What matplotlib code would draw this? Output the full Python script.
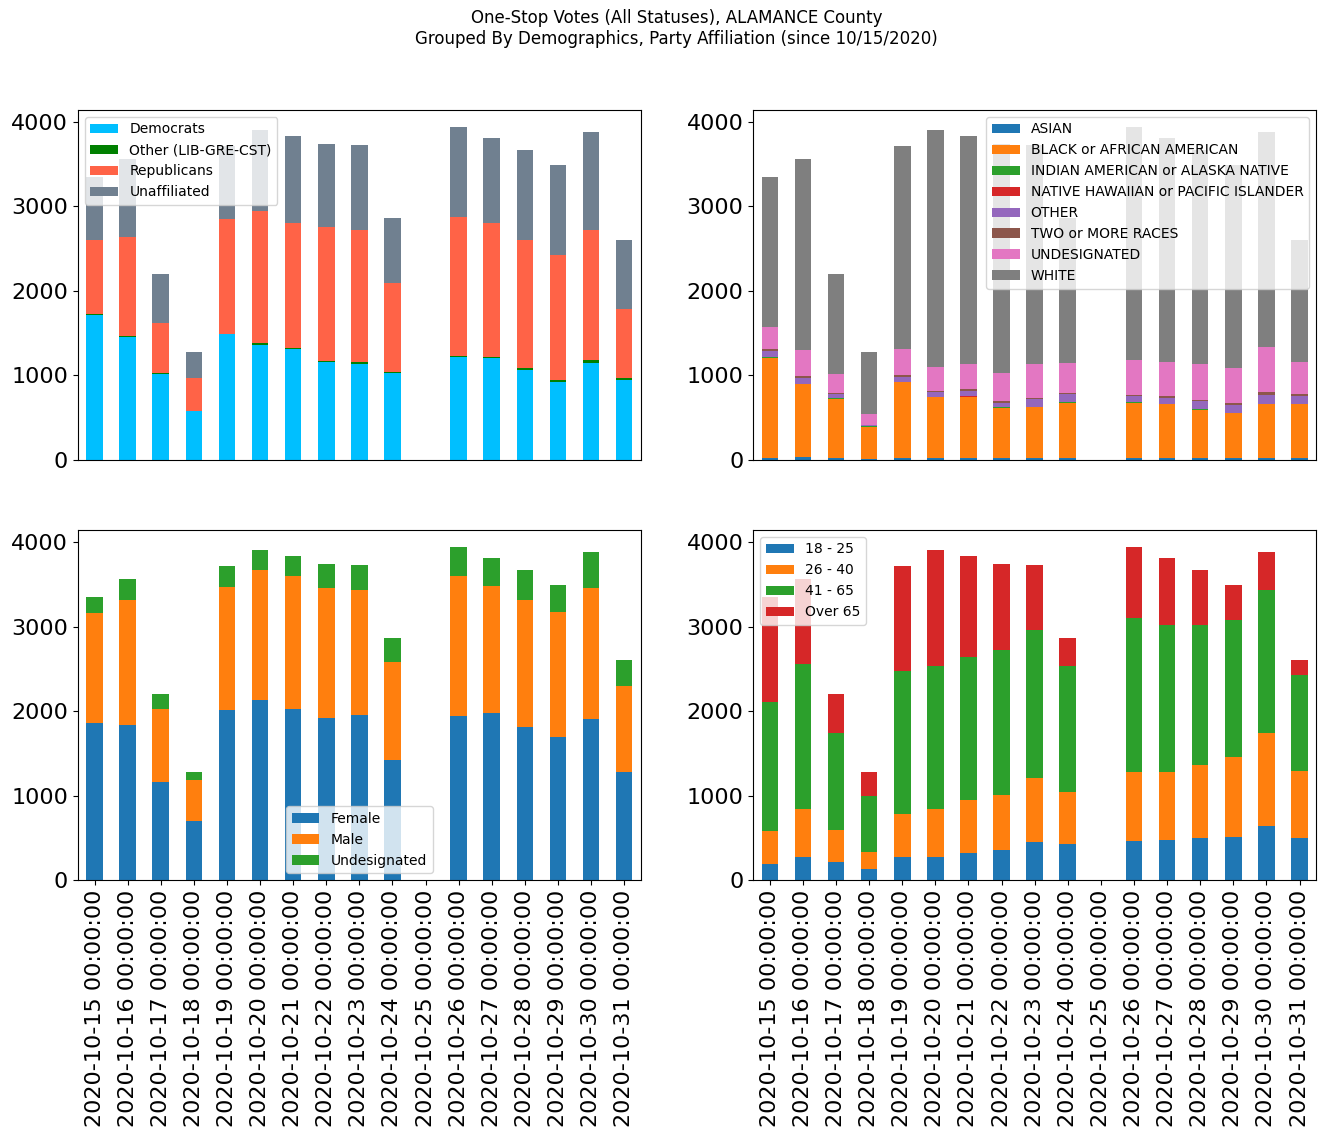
import matplotlib
matplotlib.use('Agg')
import matplotlib.pyplot as plt
import pandas as pd

dates = pd.date_range('2020-10-15', '2020-10-31', freq='D')

# party
dem = [1718, 1461, 1023, 580, 1485, 1362, 1319, 1165, 1141, 1035, 0, 1224, 1212, 1070, 928, 1153, 952]
oth = [10, 10, 4, 4, 8, 24, 12, 12, 20, 8, 0, 12, 8, 24, 24, 36, 24]
rep = [878, 1163, 596, 391, 1354, 1556, 1477, 1575, 1564, 1054, 0, 1635, 1588, 1512, 1476, 1536, 813]
una = [746, 932, 580, 304, 873, 967, 1030, 991, 1006, 770, 0, 1074, 1006, 1066, 1067, 1161, 817]

# race
asian = [24, 36, 24, 12, 24, 24, 24, 24, 24, 24, 0, 24, 24, 24, 24, 24, 24]
black = [1188, 864, 699, 379, 900, 722, 722, 592, 604, 651, 0, 651, 639, 568, 533, 639, 639]
indian = [8, 4, 8, 8, 4, 4, 4, 6, 4, 8, 0, 8, 4, 6, 4, 4, 4]
nhpi = [0, 0, 0, 0, 0, 0, 8, 0, 0, 0, 0, 0, 0, 0, 0, 0, 0]
other_race = [75, 67, 51, 12, 55, 56, 59, 53, 91, 99, 0, 75, 67, 101, 91, 103, 91]
two_more = [16, 24, 12, 8, 24, 11, 24, 24, 11, 12, 0, 12, 24, 12, 23, 36, 24]
undes_race = [265, 308, 225, 126, 308, 285, 296, 332, 403, 355, 0, 415, 403, 426, 415, 533, 379]
white = [1776, 2263, 1184, 734, 2405, 2807, 2701, 2712, 2594, 1718, 0, 2760, 2653, 2535, 2405, 2547, 1445]

# gender
female = [1860, 1836, 1161, 699, 2014, 2132, 2026, 1919, 1955, 1422, 0, 1943, 1978, 1812, 1694, 1907, 1279]
male = [1303, 1481, 865, 486, 1457, 1540, 1575, 1540, 1480, 1160, 0, 1658, 1505, 1505, 1481, 1552, 1019]
undes_gender = [189, 249, 177, 94, 249, 237, 237, 284, 296, 285, 0, 344, 331, 355, 320, 427, 308]

# age
age_18_25 = [190, 272, 213, 130, 272, 272, 320, 355, 450, 426, 0, 462, 474, 498, 509, 640, 498]
age_26_40 = [390, 569, 379, 202, 510, 569, 628, 652, 758, 616, 0, 817, 805, 864, 948, 1101, 793]
age_41_65 = [1529, 1718, 1149, 663, 1694, 1694, 1694, 1718, 1753, 1493, 0, 1825, 1742, 1659, 1623, 1694, 1137]
age_over65 = [1243, 1007, 462, 284, 1244, 1374, 1196, 1018, 770, 332, 0, 841, 793, 651, 415, 451, 178]

party = pd.DataFrame({'Democrats': dem, 'Other (LIB-GRE-CST)': oth,
                      'Republicans': rep, 'Unaffiliated': una}, index=dates)
race = pd.DataFrame({'ASIAN': asian, 'BLACK or AFRICAN AMERICAN': black,
                     'INDIAN AMERICAN or ALASKA NATIVE': indian,
                     'NATIVE HAWAIIAN or PACIFIC ISLANDER': nhpi,
                     'OTHER': other_race, 'TWO or MORE RACES': two_more,
                     'UNDESIGNATED': undes_race, 'WHITE': white}, index=dates)
gender = pd.DataFrame({'Female': female, 'Male': male,
                       'Undesignated': undes_gender}, index=dates)
age = pd.DataFrame({'18 - 25': age_18_25, '26 - 40': age_26_40,
                    '41 - 65': age_41_65, 'Over 65': age_over65}, index=dates)

fig, axes = plt.subplots(2, 2, figsize=(13.26, 11.37), dpi=100)
plt.subplots_adjust(left=0.0588, right=0.9925, top=0.9033, bottom=0.226,
                    wspace=0.2, hspace=0.2)

party.plot(kind='bar', stacked=True, ax=axes[0, 0],
           color=['deepskyblue', 'green', 'tomato', 'slategray'])
race.plot(kind='bar', stacked=True, ax=axes[0, 1],
          color=['tab:blue', 'tab:orange', 'tab:green', 'tab:red',
                 'tab:purple', 'tab:brown', 'tab:pink', 'tab:gray'])
gender.plot(kind='bar', stacked=True, ax=axes[1, 0])
age.plot(kind='bar', stacked=True, ax=axes[1, 1])

labels = [d.strftime('%Y-%m-%d %H:%M:%S') for d in dates]
for ax in axes.flat:
    ax.tick_params(labelsize=16)
    ax.set_xlabel('')
for ax in axes[0]:
    ax.tick_params(axis='x', bottom=False, labelbottom=False)
for ax in axes[1]:
    ax.set_xticklabels(labels, rotation=90)

axes[0, 0].legend(loc='upper left', fontsize=10)
axes[0, 1].legend(loc='upper right', fontsize=10)
axes[1, 0].legend(loc='lower center', fontsize=10)
axes[1, 1].legend(loc='upper left', fontsize=10)

fig.suptitle('One-Stop Votes (All Statuses), ALAMANCE County\n'
             'Grouped By Demographics, Party Affiliation (since 10/15/2020)',
             x=0.51, y=0.992, fontsize=12)

plt.savefig('out.png')
